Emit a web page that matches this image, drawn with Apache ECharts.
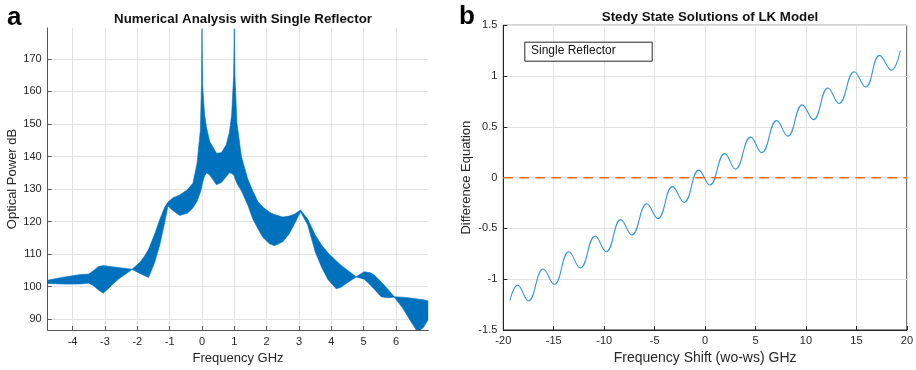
<!DOCTYPE html>
<html><head><meta charset="utf-8">
<script src="https://cdn.jsdelivr.net/npm/echarts@6/dist/echarts.min.js"></script>
<style>html,body{margin:0;padding:0;background:#fff}#c{width:916px;height:370px}</style>
</head><body><div id="c"></div>
<script>
// Panel a: envelope of the fast-oscillating optical power (band between upper and lower edge)
const bandX = [-4.77,-4.3,-3.8,-3.5,-3.35,-3.2,-3.05,-2.9,-2.6,-2.16,-1.92,-1.77,-1.65,-1.46,-1.31,-1.15,-1.05,-0.9,-0.69,-0.45,-0.28,-0.15,-0.05,-0.015,0.0,0.02,0.08,0.14,0.24,0.45,0.6,0.75,0.85,0.92,0.98,1.0,1.02,1.08,1.22,1.42,1.57,1.73,1.88,2.09,2.24,2.5,2.7,2.86,3.05,3.27,3.5,3.7,3.89,4.15,4.3,4.51,4.77,5.02,5.2,5.33,5.54,5.75,5.95,6.2,6.45,6.67,6.85,7.0];
const bandUpper = [102.0,102.9,103.7,103.9,105.0,106.2,106.5,106.3,105.9,105.4,107.5,109.5,111.5,116.2,120.5,124.5,126.0,127.3,128.2,129.8,131.8,138.0,148.0,162.0,179.3,162.0,153.0,149.0,144.6,141.0,141.2,143.6,147.5,153.0,165.0,179.3,165.0,150.5,140.0,133.0,129.5,126.2,124.5,122.9,122.2,121.4,121.7,122.3,123.6,120.8,116.0,112.8,110.5,108.0,106.6,105.0,103.1,104.6,104.3,103.6,101.5,99.2,96.9,96.8,96.5,96.2,96.0,95.6];
const bandLower = [101.0,100.8,100.8,101.1,100.3,99.0,98.0,99.4,102.2,105.3,104.1,103.4,102.8,107.5,112.6,119.8,124.8,123.4,121.9,122.6,124.2,126.3,129.0,130.2,131.0,132.0,134.0,135.0,134.3,131.3,132.0,133.8,135.0,134.8,134.3,134.0,133.3,131.8,129.5,125.0,120.9,117.8,115.2,113.2,112.6,113.8,116.3,119.3,123.0,119.0,110.8,106.0,102.3,99.4,99.8,101.3,103.0,102.3,100.6,99.2,96.9,96.6,96.8,93.5,89.5,86.0,87.5,90.0];
const leftXTicks = [-4,-3,-2,-1,0,1,2,3,4,5,6];
const leftYTicks = [90,100,110,120,130,140,150,160,170];

// Panel b: difference equation vs frequency shift (read at start, extrema, end)
const shiftX = [-19.34,-18.57,-17.52,-16.04,-14.95,-13.5,-12.38,-10.89,-9.8,-8.35,-7.26,-5.77,-4.68,-3.23,-2.08,-0.62,0.46,1.95,3.0,4.52,5.61,7.1,8.19,9.64,10.73,12.18,13.27,14.79,15.91,17.3,18.46,19.35];
const shiftY = [-1.207,-1.058,-1.214,-0.90,-1.05,-0.73,-0.89,-0.575,-0.73,-0.413,-0.565,-0.257,-0.403,-0.088,-0.243,0.074,-0.072,0.237,0.084,0.399,0.246,0.561,0.409,0.717,0.571,0.882,0.730,1.042,0.892,1.204,1.058,1.252];
const zeroX = [-20, 20];
const zeroY = [0, 0];
const legendLabel = 'Single Reflector';

const FONT = 'Liberation Sans, Arial, sans-serif';
const AX = '#262626';
const GRIDC = '#e2e2e2';

const chart = echarts.init(document.getElementById('c'), null, {renderer: 'canvas'});
const bandData = bandX.map((x, i) => [x, bandUpper[i], bandLower[i]]);

chart.setOption({
  animation: false,
  backgroundColor: '#fff',
  textStyle: {fontFamily: FONT},
  title: [
    {text: 'Numerical Analysis with Single Reflector', left: 238, textAlign: 'center', top: 8,
     textStyle: {fontSize: 13.3, fontWeight: 'bold', color: '#111', fontFamily: FONT}},
    {text: 'Stedy State Solutions of LK Model', left: 705, textAlign: 'center', top: 6,
     textStyle: {fontSize: 13.3, fontWeight: 'bold', color: '#111', fontFamily: FONT}}
  ],
  graphic: [
    {type: 'text', left: 7, top: 5, style: {text: 'a', font: 'bold 26px ' + FONT, fill: '#000'}},
    {type: 'text', left: 459, top: 4, style: {text: 'b', font: 'bold 26px ' + FONT, fill: '#000'}},
    {type: 'rect', left: 524.3, top: 41.7, shape: {width: 127.4, height: 19},
     style: {fill: '#fff', stroke: AX, lineWidth: 1}, z: 10},
    {type: 'text', left: 531, top: 44.5, style: {text: legendLabel, font: '12px ' + FONT, fill: '#111'}, z: 11}
  ],
  grid: [
    {left: 47.7, right: 487.7, top: 28, bottom: 39.7},
    {left: 503.3, right: 8.7, top: 25.3, bottom: 36.7, show: true, borderColor: AX, borderWidth: 1, backgroundColor: 'transparent'}
  ],
  xAxis: [
    {type: 'value', gridIndex: 0, min: -4.77, max: 7,
     name: 'Frequency GHz', nameLocation: 'middle', nameGap: 22,
     nameTextStyle: {fontSize: 13, color: AX, fontFamily: FONT},
     axisLine: {show: true, onZero: false, lineStyle: {color: '#555', width: 1}},
     axisTick: {show: true, inside: true, length: 4, customValues: leftXTicks, lineStyle: {color: '#555'}},
     axisLabel: {customValues: leftXTicks, fontSize: 11, color: AX, margin: 6, fontFamily: FONT},
     splitLine: {show: true, lineStyle: {color: GRIDC, width: 1}}},
    {type: 'value', gridIndex: 1, min: -20, max: 20, interval: 5,
     name: 'Frequency Shift (wo-ws) GHz', nameLocation: 'middle', nameGap: 21,
     nameTextStyle: {fontSize: 14, color: AX, fontFamily: FONT},
     axisLine: {show: true, onZero: false, lineStyle: {color: AX, width: 1}},
     axisTick: {show: true, inside: true, length: 4, lineStyle: {color: AX}},
     axisLabel: {fontSize: 11, color: AX, margin: 5, fontFamily: FONT},
     splitLine: {show: true, lineStyle: {color: GRIDC, width: 1}}}
  ],
  yAxis: [
    {type: 'value', gridIndex: 0, min: 86.7, max: 179.5,
     name: 'Optical Power dB', nameLocation: 'middle', nameGap: 29, nameRotate: 90,
     nameTextStyle: {fontSize: 13, color: AX, fontFamily: FONT},
     axisLine: {show: true, onZero: false, lineStyle: {color: '#555', width: 1}},
     axisTick: {show: true, inside: true, length: 4, customValues: leftYTicks, lineStyle: {color: '#555'}},
     axisLabel: {customValues: leftYTicks, fontSize: 11, color: AX, margin: 6, fontFamily: FONT},
     splitLine: {show: true, lineStyle: {color: GRIDC, width: 1}}},
    {type: 'value', gridIndex: 1, min: -1.5, max: 1.5, interval: 0.5,
     name: 'Difference Equation', nameLocation: 'middle', nameGap: 30, nameRotate: 90,
     nameTextStyle: {fontSize: 13, color: AX, fontFamily: FONT},
     axisLine: {show: true, onZero: false, lineStyle: {color: AX, width: 1}},
     axisTick: {show: true, inside: true, length: 4, lineStyle: {color: AX}},
     axisLabel: {fontSize: 11, color: AX, margin: 6, fontFamily: FONT},
     splitLine: {show: true, lineStyle: {color: GRIDC, width: 1}}}
  ],
  series: [
    {
      name: 'Optical power band', type: 'custom', xAxisIndex: 0, yAxisIndex: 0,
      clip: true,
      encode: {x: 0, y: [1, 2]},
      data: bandData,
      renderItem: function (params, api) {
        if (params.dataIndex !== 0) return null;
        const pts = [];
        for (let i = 0; i < bandX.length; i++) pts.push(api.coord([bandX[i], bandUpper[i]]));
        for (let i = bandX.length - 1; i >= 0; i--) pts.push(api.coord([bandX[i], bandLower[i]]));
        const cs = params.coordSys;
        return {
          type: 'polygon',
          shape: {points: pts},
          style: {fill: '#0072BD', stroke: '#0072BD', lineWidth: 0.6},
          clipPath: {type: 'rect', shape: {x: cs.x, y: cs.y, width: cs.width, height: cs.height}}
        };
      }
    },
    {
      name: legendLabel, type: 'line', xAxisIndex: 1, yAxisIndex: 1,
      data: shiftX.map((x, i) => [x, shiftY[i]]),
      smooth: 0.45, symbol: 'none',
      lineStyle: {color: '#3a96db', width: 1.1},
      itemStyle: {color: '#3a96db'}
    },
    {
      name: 'zero', type: 'line', xAxisIndex: 1, yAxisIndex: 1,
      data: zeroX.map((x, i) => [x, zeroY[i]]),
      symbol: 'none', z: 5, clip: false,
      itemStyle: {color: '#F06A25'},
      lineStyle: {color: '#F06A25', width: 1.5, type: [10, 6], opacity: 1}
    }
  ]
});
</script></body></html>
